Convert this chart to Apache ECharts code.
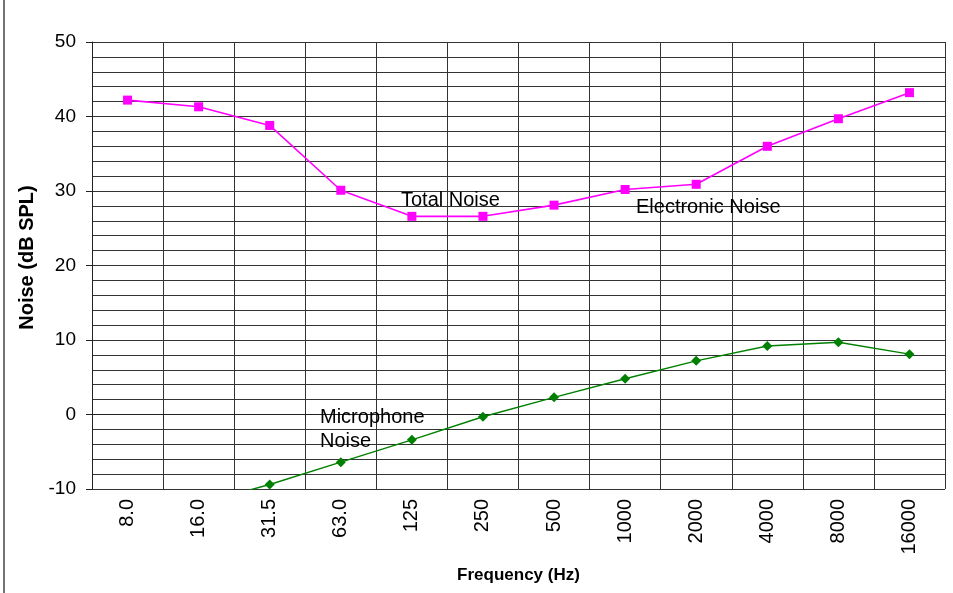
<!DOCTYPE html>
<html>
<head>
<meta charset="utf-8">
<script src="https://cdn.jsdelivr.net/npm/echarts@6/dist/echarts.min.js"></script>
<style>
html,body{margin:0;padding:0;background:#fff;}
#chart{width:953px;height:593px;}
</style>
</head>
<body>
<div id="chart"></div>
<script>
var categories = ['8.0','16.0','31.5','63.0','125','250','500','1000','2000','4000','8000','16000'];
var totalNoise = [42.2, 41.3, 38.8, 30.1, 26.6, 26.6, 28.1, 30.2, 30.9, 36.0, 39.7, 43.2];
var microphoneNoise = [null, -12.0, -9.4, -6.4, -3.4, -0.3, 2.3, 4.8, 7.2, 9.2, 9.7, 8.1];
var yMin = -10, yMax = 50, yStep = 10;

var FONT = 'Liberation Sans, Arial, sans-serif';
var chart = echarts.init(document.getElementById('chart'));
chart.setOption({
  animation: false,
  backgroundColor: '#ffffff',
  grid: {left: 92, right: 8, top: 42, bottom: 104, containLabel: false},
  xAxis: {
    type: 'category',
    data: categories,
    boundaryGap: true,
    axisLine: {show: true, lineStyle: {color: '#222', width: 1}},
    axisTick: {show: true, length: 6, interval: 0, lineStyle: {color: '#222'}},
    splitLine: {show: true, interval: 0, lineStyle: {color: '#333', width: 1}},
    axisLabel: {rotate: 90, interval: 0, fontSize: 20, color: '#000', margin: 10, fontFamily: FONT},
    name: 'Frequency (Hz)',
    nameLocation: 'middle',
    nameGap: 78,
    nameTextStyle: {fontSize: 17, fontWeight: 'bold', color: '#000', fontFamily: FONT}
  },
  yAxis: {
    type: 'value',
    min: yMin, max: yMax, interval: yStep,
    axisLine: {show: true, lineStyle: {color: '#222', width: 1}},
    axisTick: {show: true, length: 6, lineStyle: {color: '#222'}},
    splitLine: {show: true, lineStyle: {color: '#333', width: 1}},
    minorTick: {show: false, splitNumber: 5},
    minorSplitLine: {show: true, lineStyle: {color: '#333', width: 1}},
    axisLabel: {fontSize: 19, color: '#000', margin: 16, fontFamily: FONT},
    name: 'Noise (dB SPL)',
    nameLocation: 'middle',
    nameGap: 54,
    nameTextStyle: {fontSize: 20, fontWeight: 'bold', color: '#000', fontFamily: FONT, padding: [0,0,0,16]}
  },
  series: [
    {
      name: 'Total Noise', type: 'line', data: totalNoise,
      symbol: 'rect', symbolSize: 9, showSymbol: true,
      itemStyle: {color: '#FF00FF'},
      lineStyle: {color: '#FF00FF', width: 1.6},
      clip: true, z: 3
    },
    {
      name: 'Microphone Noise', type: 'line', data: microphoneNoise,
      symbol: 'diamond', symbolSize: 10, showSymbol: true,
      itemStyle: {color: '#008000'},
      lineStyle: {color: '#008000', width: 1.4},
      clip: true, connectNulls: false, z: 3
    }
  ],
  graphic: [
    {type: 'line', shape: {x1: 4, y1: 0, x2: 4, y2: 593}, style: {stroke: '#444', lineWidth: 1.5}, z: 10},
    {type: 'text', left: 401, top: 190, style: {text: 'Total Noise', fontSize: 20, fontFamily: FONT, fill: '#000'}, z: 10},
    {type: 'text', left: 636, top: 197, style: {text: 'Electronic Noise', fontSize: 20, fontFamily: FONT, fill: '#000'}, z: 10},
    {type: 'text', left: 320, top: 405, style: {text: 'Microphone\nNoise', fontSize: 20, lineHeight: 24, fontFamily: FONT, fill: '#000'}, z: 10}
  ]
});
</script>
</body>
</html>
